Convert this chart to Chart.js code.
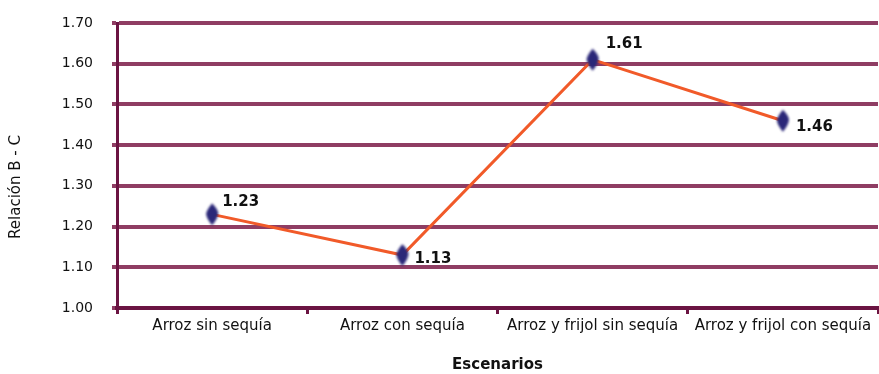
<!DOCTYPE html>
<html><head><meta charset="utf-8">
<script src="https://cdn.jsdelivr.net/npm/chart.js@4/dist/chart.umd.min.js"></script>
<style>html,body{margin:0;padding:0;background:#fff}#wrap{width:879px;height:374px}</style>
</head><body><div id="wrap"><canvas id="c" width="879" height="374"></canvas></div>
<script>
const categories = ["Arroz sin sequía", "Arroz con sequía", "Arroz y frijol sin sequía", "Arroz y frijol con sequía"];
const values = [1.23, 1.13, 1.61, 1.46];
const yTicks = [1.00, 1.10, 1.20, 1.30, 1.40, 1.50, 1.60, 1.70];
const yTitle = 'Relación B - C';
const xTitle = 'Escenarios';
const labelOffsets = [[10,-12],[12,4],[13,-16],[13,6]];

const FONT = "'DejaVu Sans', sans-serif";

// blurred diamond marker image
const mk = document.createElement('canvas');
mk.width = 20; mk.height = 28;
(function(){
  const g = mk.getContext('2d');
  g.filter = 'blur(1.2px)';
  g.fillStyle = '#2a2778';
  g.beginPath();
  g.moveTo(10, 3); g.quadraticCurveTo(17, 10, 16, 14); g.quadraticCurveTo(15, 19, 10, 25);
  g.quadraticCurveTo(5, 19, 4, 14); g.quadraticCurveTo(4, 10, 10, 3); g.closePath();
  g.fill();
  g.filter = 'none';
})();

const labelPlugin = {
  id: 'valLabels',
  afterDatasetsDraw(chart) {
    const ctx = chart.ctx;
    const meta = chart.getDatasetMeta(0);
    ctx.save();
    ctx.font = "bold 15px " + FONT;
    ctx.fillStyle = '#111';
    ctx.textBaseline = 'middle';
    ctx.textAlign = 'left';
    meta.data.forEach((p, i) => {
      const o = labelOffsets[i];
      ctx.fillText(values[i].toFixed(2), p.x + o[0], p.y + o[1]);
    });
    // y axis title, centred on the canvas height
    ctx.font = "15px " + FONT;
    ctx.textAlign = 'center';
    ctx.translate(16, chart.height / 2);
    ctx.rotate(-Math.PI / 2);
    ctx.fillText(yTitle, 0, 0);
    ctx.restore();
  }
};

new Chart(document.getElementById('c'), {
  type: 'line',
  data: {
    labels: categories,
    datasets: [{
      data: values,
      borderColor: '#f15a29',
      borderWidth: 3,
      tension: 0,
      pointStyle: mk,
      pointRadius: 10
    }]
  },
  options: {
    responsive: false,
    animation: false,
    layout: { autoPadding: false, padding: { left: 0, right: 1, top: 23, bottom: 0 } },
    plugins: { legend: { display: false }, tooltip: { enabled: false } },
    scales: {
      x: {
        type: 'category',
        offset: true,
        grid: { offset: true, drawOnChartArea: false, drawTicks: true, tickLength: 6, color: '#6b1442', lineWidth: 3 },
        border: { color: '#6b1442', width: 4 },
        ticks: { color: '#111', font: { family: FONT, size: 15 }, padding: 3, maxRotation: 0, autoSkip: false },
        title: { display: true, text: xTitle, color: '#111', font: { family: FONT, size: 15, weight: 'bold' }, padding: { top: 21, bottom: 0 } },
        afterFit(s) { s.height = 66; s.paddingLeft = 0; s.paddingRight = 0; }
      },
      y: {
        min: 1.0, max: 1.7,
        afterBuildTicks(s) { s.ticks = yTicks.map(v => ({ value: v })); },
        grid: { color: '#8f3d63', lineWidth: 4, tickLength: 5 },
        border: { color: '#6b1442', width: 3 },
        ticks: { color: '#111', font: { family: FONT, size: 14 }, padding: 19, callback: v => Number(v).toFixed(2) },
        afterFit(s) { s.width = 117; s.paddingTop = 0; s.paddingBottom = 0; }
      }
    }
  },
  plugins: [labelPlugin]
});
</script></body></html>
